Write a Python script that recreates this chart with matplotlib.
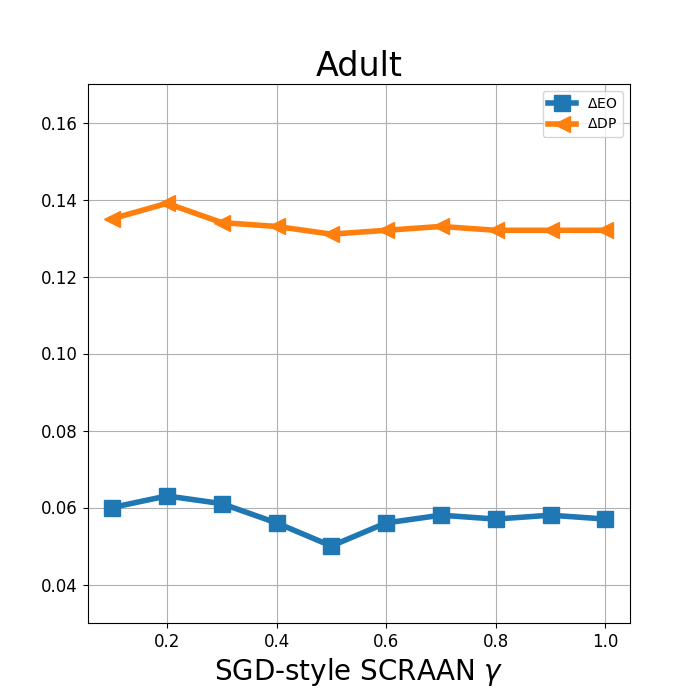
import numpy as np
import matplotlib
matplotlib.use('Agg')
import matplotlib.pyplot as plt

# gamma values and fairness gaps
gamma = [0.1, 0.2, 0.3, 0.4, 0.5, 0.6, 0.7, 0.8, 0.9, 1.0]
delta_eo = [0.060, 0.063, 0.061, 0.056, 0.050, 0.056, 0.058, 0.057, 0.058, 0.057]
delta_dp = [0.135, 0.139, 0.134, 0.133, 0.131, 0.132, 0.133, 0.132, 0.132, 0.132]

fig = plt.figure(figsize=(7, 7), dpi=100)
plt.plot(gamma, delta_eo, marker='s', linewidth=4, markersize=12, label=r'$\Delta$EO')
plt.plot(gamma, delta_dp, marker='<', linewidth=4, markersize=12, label=r'$\Delta$DP')
plt.ylim(0.03, 0.17)
plt.xticks(fontsize=12)
plt.yticks(fontsize=12)
plt.grid(True)
plt.title('Adult', fontsize=24)
plt.xlabel(r'SGD-style SCRAAN $\gamma$', fontsize=20)
plt.legend(loc='upper right', fontsize=10)
plt.savefig('out.png')
plt.close(fig)
